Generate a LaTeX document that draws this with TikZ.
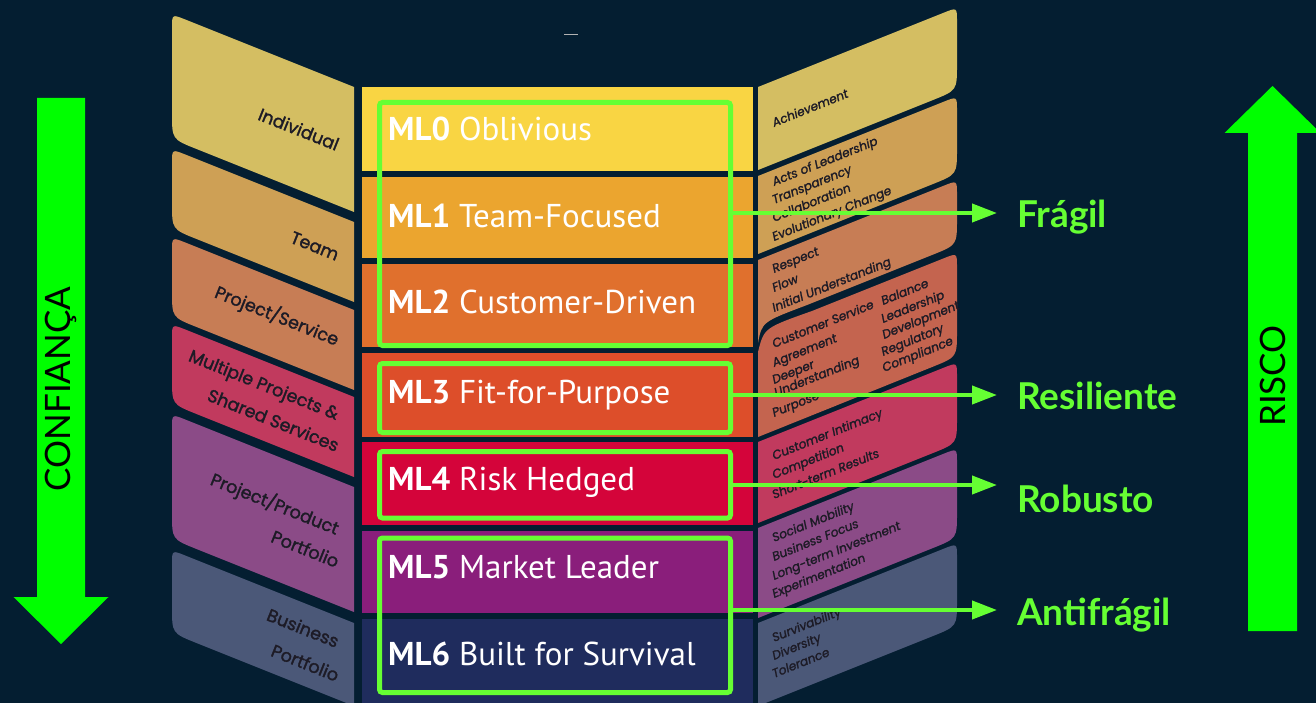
\documentclass[tikz,border=0pt]{standalone}
\usepackage{fontspec}
\setmainfont{Lato}
\newfontfamily\mlfont{PT Sans}
\newfontfamily\pfont{Poppins}[FakeBold=1.6]
\newfontfamily\lblfont{Lato}
\usetikzlibrary{calc,arrows.meta}
\definecolor{bg}{HTML}{041E31}
\definecolor{gline}{HTML}{66FF33}
\definecolor{gbig}{HTML}{00FF00}
\definecolor{ptext}{HTML}{1D1B26}
\definecolor{cA}{HTML}{D4BE62}
\definecolor{cB}{HTML}{CEA055}
\definecolor{cC}{HTML}{C77D55}
\definecolor{cD}{HTML}{C4644F}
\definecolor{cE}{HTML}{C13A5E}
\definecolor{cF}{HTML}{8B4B87}
\definecolor{cG}{HTML}{4B5878}
\definecolor{mzero}{HTML}{F9D543}
\definecolor{mone}{HTML}{EBA52F}
\definecolor{mtwo}{HTML}{E0702D}
\definecolor{mthree}{HTML}{DD4E2A}
\definecolor{mfour}{HTML}{D4043A}
\definecolor{mfive}{HTML}{8A1E7B}
\definecolor{msix}{HTML}{1F2C5D}
% left panel: colour, top y at right edge, bottom y at right edge
\newcommand{\lpanel}[3]{%
  \pgfmathsetmacro{\lpT}{#2-72.8}%
  \pgfmathsetmacro{\lpB}{#3-72.8}%
  \fill[#1] (354,#2) -- ($(172,\lpT)!14pt!(354,#2)$) .. controls (172,\lpT) .. ($(172,\lpT)!14pt!(172,\lpB)$)
    -- ($(172,\lpB)!26pt!(172,\lpT)$) .. controls (172,\lpB) .. ($(172,\lpB)!26pt!(354,#3)$) -- (354,#3) -- cycle;}
% right panel: colour, top y at left edge, bottom y at left edge
\newcommand{\rpanel}[3]{%
  \pgfmathsetmacro{\rpT}{#2-79.6}%
  \pgfmathsetmacro{\rpB}{#3-79.6}%
  \fill[#1] (758,#2) -- ($(957,\rpT)!14pt!(758,#2)$) .. controls (957,\rpT) .. ($(957,\rpT)!14pt!(957,\rpB)$)
    -- ($(957,\rpB)!26pt!(957,\rpT)$) .. controls (957,\rpB) .. ($(957,\rpB)!26pt!(758,#3)$) -- (758,#3) -- cycle;}
\begin{document}
\begin{tikzpicture}[x=1pt,y=-1pt,
  mltext/.style={text=white, anchor=base west, inner sep=0pt, font=\mlfont\fontsize{33}{38}\selectfont},
  ltext/.style={text=ptext, anchor=base east, inner sep=0pt, rotate=-21.8, font=\pfont\fontsize{17.5}{21}\selectfont},
  rtext/.style={text=ptext, anchor=base west, inner sep=0pt, rotate=21.8, font=\pfont\itshape\fontsize{12.2}{15}\selectfont},
  gbox/.style={draw=gline, line width=5pt, rounded corners=3pt, anchor=north west, minimum width=351pt, inner sep=0pt},
  garrow/.style={draw=gline, line width=4pt, -{Triangle[length=25pt,width=18pt]}},
  glabel/.style={text=gline, anchor=base west, inner sep=0pt, font=\lblfont\bfseries\fontsize{37}{44}\selectfont},
  bigtext/.style={text=black, rotate=90, inner sep=0pt, font=\lblfont\fontsize{35}{42}\selectfont},
]
\useasboundingbox (0,0) rectangle (1316,703);
\fill[bg] (0,0) rectangle (1316,703);
\clip (0,0) rectangle (1316,703);

% small mark at top
\draw[gray!60, line width=1pt] (564,35) -- (578,35);

% left panels
\lpanel{cA}{87}{212}
\lpanel{cB}{222}{302}
\lpanel{cC}{310}{390}
\lpanel{cE}{397}{477}
\lpanel{cF}{487}{612}
\lpanel{cG}{623}{706}

% right panels
\rpanel{cA}{87}{170}
\rpanel{cB}{176}{254}
\fill[cC] (758,260) -- ($(957,180.4)!14pt!(758,260)$) .. controls (957,180.4) .. ($(957,180.4)!14pt!(957,245)$)
  -- ($(957,245)!26pt!(957,180.4)$) .. controls (957,245) .. ($(957,245)!26pt!(806,305.4)$)
  -- (806,305.4) .. controls (762,322) .. (758,343) -- cycle;
\fill[cD] (758,437) -- (758,352) .. controls (764,328) .. (812,311) -- ($(957,253)!14pt!(812,311)$)
  .. controls (957,253) .. ($(957,253)!14pt!(957,357)$) -- ($(957,357)!26pt!(957,253)$)
  .. controls (957,357) .. ($(957,357)!26pt!(758,437)$) -- cycle;
\rpanel{cE}{442}{523}
\rpanel{cF}{528}{618}
\rpanel{cG}{623}{706}

% central column
\fill[mzero]  (362,87)  rectangle (753,171);
\fill[mone]   (362,177) rectangle (753,258);
\fill[mtwo]   (362,264) rectangle (753,347);
\fill[mthree] (362,353) rectangle (753,437);
\fill[mfour]  (362,442) rectangle (753,525);
\fill[mfive]  (362,531) rectangle (753,613);
\fill[msix]   (362,619) rectangle (753,706);

\node[mltext] (ml0) at (388,141) {\textbf{ML0} Oblivious};
\node[mltext] (ml1) at (388,228) {\textbf{ML1} Team-Focused};
\node[mltext] (ml2) at (388,313) {\textbf{ML2} Customer-Driven};
\node[mltext] (ml3) at (388,403) {\textbf{ML3} Fit-for-Purpose};
\node[mltext] (ml4) at (388,490) {\textbf{ML4} Risk Hedged};
\node[mltext] (ml5) at (388,578) {\textbf{ML5} Market Leader};
\node[mltext] (ml6) at (388,665) {\textbf{ML6} Built for Survival};

% left panel texts
\node[ltext] (lt1)  at (336,151) {Individual};
\node[ltext] (lt2)  at (336,261) {Team};
\node[ltext] (lt3)  at (336,346) {Project/Service};
\node[ltext] (lt4a) at (336,420) {Multiple Projects \&};
\node[ltext] (lt4b) at (336,452) {Shared Services};
\node[ltext] (lt5a) at (336,535) {Project/Product};
\node[ltext] (lt5b) at (336,568) {Portfolio};
\node[ltext] (lt6a) at (336,648) {Business};
\node[ltext] (lt6b) at (336,682) {Portfolio};

% right panel texts
\node[rtext] (r1)  at (774,127) {Achievement};
\node[rtext] (r2a) at (774,186) {Acts of Leadership};
\node[rtext] (r2b) at (774,204) {Transparency};
\node[rtext] (r2c) at (774,222) {Collaboration};
\node[rtext] (r2d) at (774,241) {Evolutionary Change};
\node[rtext] (r3a) at (774,273) {Respect};
\node[rtext] (r3b) at (774,292) {Flow};
\node[rtext] (r3c) at (774,312) {Initial Understanding};
\node[rtext] (r4a) at (774,348) {Customer Service};
\node[rtext] (r4b) at (774,367) {Agreement};
\node[rtext] (r4c) at (774,384) {Deeper};
\node[rtext] (r4d) at (776,397) {Understanding};
\node[rtext] (r4e) at (774,417) {Purpose};
\node[rtext] (r4f) at (883,305) {Balance};
\node[rtext] (r4g) at (883,323) {Leadership};
\node[rtext] (r4h) at (884,339) {Development};
\node[rtext] (r4i) at (883,356) {Regulatory};
\node[rtext] (r4j) at (884,372) {Compliance};
\node[rtext] (r5a) at (774,460) {Customer Intimacy};
\node[rtext] (r5b) at (774,479) {Competition};
\node[rtext] (r5c) at (774,499) {Short-term Results};
\node[rtext] (r6a) at (774,542) {Social Mobility};
\node[rtext] (r6b) at (774,561) {Business Focus};
\node[rtext] (r6c) at (774,580) {Long-term Investment};
\node[rtext] (r6d) at (774,598) {Experimentation};
\node[rtext] (r7a) at (774,642) {Survivability};
\node[rtext] (r7b) at (774,660) {Diversity};
\node[rtext] (r7c) at (774,678) {Tolerance};

% green boxes
\node[gbox, minimum height=243pt]   (b1) at (377,100) {};
\node[gbox, minimum height=69pt]    (b2) at (377,361) {};
\node[gbox, minimum height=66.5pt]  (b3) at (377,449) {};
\node[gbox, minimum height=154.5pt] (b4) at (377,535.5) {};

% labels and arrows
\node[glabel] (fragil) at (1017,228) {Frágil};
\node[glabel] (resil)  at (1017,409) {Resiliente};
\node[glabel] (robus)  at (1017,512) {Robusto};
\node[glabel] (antif)  at (1017,625) {Antifrágil};
\coordinate (tF) at (997,213);
\coordinate (tR) at (997,395);
\coordinate (tB) at (997,485);
\coordinate (tA) at (997,610);
\draw[garrow] (b1.east |- tF) -- (tF);
\draw[garrow] (b2.east |- tR) -- (tR);
\draw[garrow] (b3.east |- tB) -- (tB);
\draw[garrow] (b4.east |- tA) -- (tA);

% big arrows
\fill[gbig] (37,98) -- (85,98) -- (85,597) -- (108.5,597) -- (61,644) -- (13.5,597) -- (37,597) -- cycle;
\node[bigtext] (conf) at (61,389) {CONFIANÇA};
\fill[gbig] (1248,631) -- (1297,631) -- (1297,133) -- (1320.5,133) -- (1272.5,86) -- (1224.5,133) -- (1248,133) -- cycle;
\node[bigtext] (risco) at (1272.5,376) {RISCO};
\end{tikzpicture}
\end{document}
